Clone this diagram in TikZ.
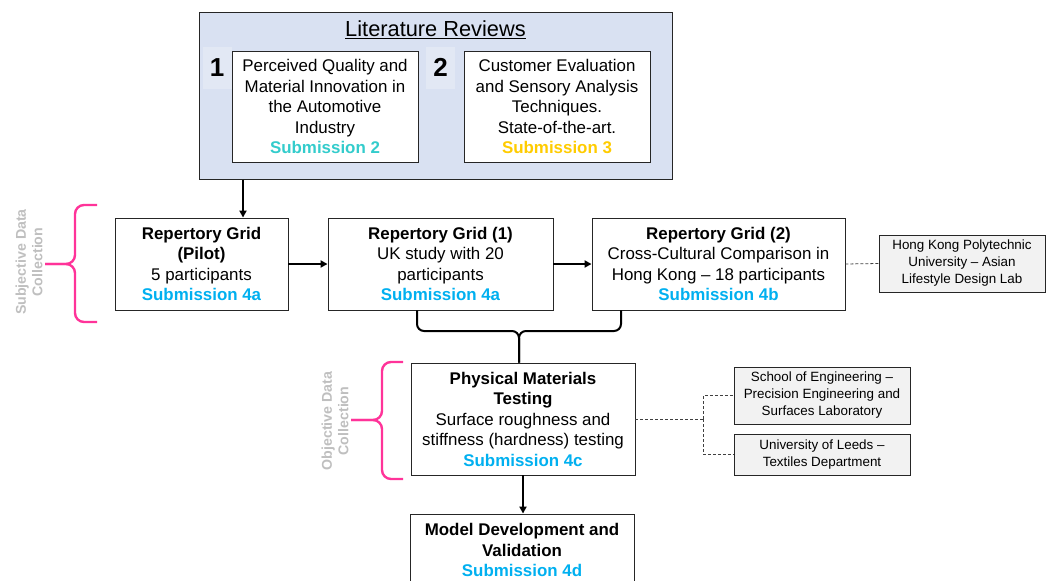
\documentclass[tikz,border=0pt]{standalone}
\usepackage{fontspec}
\setmainfont{Liberation Sans}
\usetikzlibrary{arrows.meta}
\definecolor{litfill}{HTML}{D9E1F2}
\definecolor{numfill}{HTML}{E2E8F4}
\definecolor{boxline}{HTML}{262626}
\definecolor{labfill}{HTML}{F2F2F2}
\definecolor{subblue}{HTML}{00B0F0}
\definecolor{subteal}{HTML}{33CCCC}
\definecolor{subgold}{HTML}{FFCC00}
\definecolor{bracepink}{HTML}{FF3399}
\definecolor{sidegrey}{HTML}{BFBFBF}
\definecolor{linkgrey}{HTML}{404040}
\newcommand{\subm}[2]{{\bfseries\color{#1}#2}}
\tikzset{
  stagebox/.style={draw=boxline, line width=0.9pt, fill=white, align=center,
    inner sep=0pt, font=\fontsize{16.9}{20.5}\selectfont},
  labbox/.style={draw=boxline, line width=0.8pt, fill=labfill, align=center,
    inner sep=0pt, font=\fontsize{13.4}{17}\selectfont},
  numtag/.style={fill=numfill, minimum width=29, minimum height=42, inner sep=0pt,
    font=\fontsize{26}{26}\selectfont\bfseries},
  flow/.style={line width=1.8pt, -{Triangle[length=7pt,width=7pt]}},
  merge/.style={line width=2pt, rounded corners=7},
  pinkbrace/.style={draw=bracepink, line width=2.4pt, rounded corners=9},
  sidetext/.style={text=sidegrey, align=center, rotate=90,
    font=\fontsize{14.2}{16.5}\selectfont\bfseries},
  link/.style={draw=linkgrey, line width=0.8pt, dash pattern=on 3pt off 2pt},
}
\begin{document}
\begin{tikzpicture}[x=1pt,y=-1pt]
\useasboundingbox (0,0) rectangle (1050,581);
\clip (0,0) rectangle (1050,581);

% literature reviews panel
\node[draw=boxline, line width=1pt, fill=litfill, minimum width=473, minimum height=167,
  inner sep=0pt] (lit) at (435.5,95.5) {};
\node[font=\fontsize{21.8}{24}\selectfont] (littitle) at (435.5,30) {\underline{Literature Reviews}};
\node[numtag] (num1) at (217,68) {1};
\node[numtag] (num2) at (440.5,67.5) {2};
\node[stagebox, minimum width=186, minimum height=111] (lr1) at (325,106.5)
  {Perceived Quality and\\Material Innovation in\\the Automotive\\Industry\\\subm{subteal}{Submission 2}};
\node[stagebox, minimum width=186, minimum height=111] (lr2) at (557,106.5)
  {Customer Evaluation\\and Sensory Analysis\\Techniques.\\State-of-the-art.\\\subm{subgold}{Submission 3}};

% repertory grid studies
\node[stagebox, minimum width=173, minimum height=92] (pilot) at (201.5,264)
  {\textbf{Repertory Grid}\\\textbf{(Pilot)}\\5 participants\\\subm{subblue}{Submission 4a}};
\node[stagebox, minimum width=225, minimum height=92] (grid1) at (440.5,264)
  {\textbf{Repertory Grid (1)}\\UK study with 20\\participants\\\subm{subblue}{Submission 4a}};
\node[stagebox, minimum width=253, minimum height=92] (grid2) at (718.5,264)
  {\textbf{Repertory Grid (2)}\\Cross-Cultural Comparison in\\Hong Kong -- 18 participants\\\subm{subblue}{Submission 4b}};
\node[labbox, minimum width=166, minimum height=57] (hk) at (962,263.5)
  {Hong Kong Polytechnic\\University -- Asian\\Lifestyle Design Lab};

% materials testing and model
\node[stagebox, minimum width=224, minimum height=112] (pmt) at (523,419)
  {\textbf{Physical Materials}\\\textbf{Testing}\\Surface roughness and\\stiffness (hardness) testing\\\subm{subblue}{Submission 4c}};
\node[labbox, minimum width=176, minimum height=57] (school) at (822,395.5)
  {School of Engineering --\\Precision Engineering and\\Surfaces Laboratory};
\node[labbox, minimum width=176, minimum height=41] (leeds) at (822,454.5)
  {University of Leeds --\\Textiles Department};
\node[stagebox, minimum width=224, minimum height=72] (model) at (522,550)
  {\textbf{Model Development and}\\\textbf{Validation}\\\subm{subblue}{Submission 4d}};

% flow arrows
\coordinate (litdrop) at (243,0);
\draw[flow] (lit.south -| litdrop) -- (pilot.north -| litdrop);
\draw[flow] (pilot.east) -- (grid1.west);
\draw[flow] (grid1.east) -- (grid2.west);
\draw[flow] (pmt.south) -- (model.north -| pmt.south);

% the two grid studies merge into materials testing
\coordinate (mergeL) at (417,0);
\coordinate (mergeR) at (621,0);
\coordinate (mergeTip) at (519,331);
\draw[merge] (grid1.south -| mergeL) |- (mergeTip) -- (pmt.north -| mergeTip);
\draw[merge] (grid2.south -| mergeR) |- (mergeTip) -- (pmt.north -| mergeTip);

% partner links
\draw[link] (grid2.east) -- (hk.west);
\draw[link] (pmt.east) -- ++(68,0) coordinate (labjoin);
\draw[link] (labjoin) |- (school.west);
\draw[link] (labjoin) |- (leeds.west);

% data collection braces
\coordinate (subjTip) at (45,264);
\draw[pinkbrace] (97,205) -- (75,205) -- (75,264) -- (subjTip);
\draw[pinkbrace] (97,322) -- (75,322) -- (75,264) -- (subjTip);
\node[sidetext] (subjlabel) at (29,262) {Subjective Data\\Collection};

\coordinate (objTip) at (351,420);
\draw[pinkbrace] (403,362) -- (382,362) -- (382,420) -- (objTip);
\draw[pinkbrace] (403,479) -- (382,479) -- (382,420) -- (objTip);
\node[sidetext] (objlabel) at (335,421) {Objective Data\\Collection};
\end{tikzpicture}
\end{document}
